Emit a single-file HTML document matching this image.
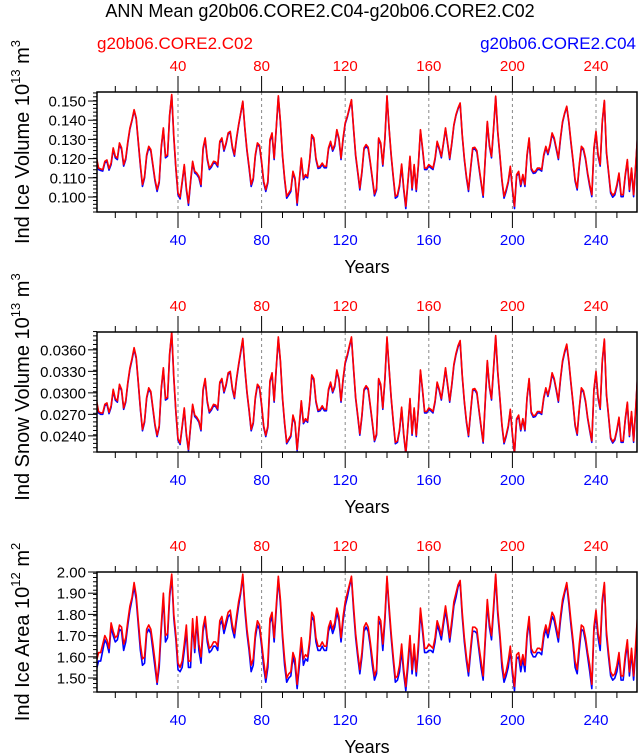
<!DOCTYPE html>
<html><head><meta charset="utf-8">
<style>
html,body{margin:0;padding:0;background:#fff;}
svg{display:block;font-family:"Liberation Sans",sans-serif;}
</style></head>
<body>
<svg id="chart" width="639" height="753" viewBox="0 0 639 753" xmlns="http://www.w3.org/2000/svg">
<text x="320" y="17" font-size="18" text-anchor="middle" fill="#000">ANN Mean g20b06.CORE2.C04-g20b06.CORE2.C02</text>
<text x="97" y="49" font-size="17" fill="#ff0000">g20b06.CORE2.C02</text>
<text x="636" y="49" font-size="17" text-anchor="end" fill="#0000ff">g20b06.CORE2.C04</text>
</svg>
<script>
const years = [];
for (let i = 1; i <= 260; i++) years.push(i);
const xTickLabels = [40, 80, 120, 160, 200, 240];

const volRed = [.1207,.1151,.1146,.1143,.1186,.1193,.1148,.1177,.1256,.1212,
.1203,.1282,.1256,.1169,.1203,.1290,.1360,.1403,.1455,.1412,
.1290,.1169,.1065,.1108,.1221,.1264,.1247,.1169,.1091,.1039,
.1082,.1264,.1360,.1212,.1221,.1429,.1534,.1316,.1151,.1021,
.1000,.1082,.1169,.1047,.0969,.1082,.1186,.1134,.1125,.1108,
.1065,.1256,.1308,.1203,.1151,.1164,.1186,.1183,.1165,.1290,
.1308,.1247,.1282,.1334,.1342,.1264,.1221,.1308,.1377,.1438,
.1499,.1360,.1247,.1160,.1065,.1099,.1221,.1282,.1269,.1186,
.1082,.1039,.1082,.1299,.1334,.1203,.1360,.1527,.1394,.1221,
.1099,.1004,.1021,.1039,.1134,.1099,.0969,.1082,.1203,.1099,
.1117,.1108,.1195,.1325,.1308,.1203,.1157,.1160,.1177,.1160,
.1160,.1256,.1290,.1247,.1273,.1351,.1308,.1203,.1308,.1386,
.1420,.1464,.1507,.1360,.1221,.1134,.1047,.1134,.1256,.1273,
.1259,.1183,.1099,.1016,.1047,.1308,.1282,.1169,.1308,.1527,
.1360,.1221,.1108,.1004,.1012,.1065,.1172,.1047,.0952,.1082,
.1212,.1047,.1169,.1039,.1169,.1351,.1256,.1151,.1151,.1169,
.1160,.1151,.1203,.1290,.1256,.1212,.1282,.1360,.1282,.1203,
.1282,.1377,.1429,.1464,.1490,.1325,.1203,.1108,.1039,.1151,
.1256,.1259,.1242,.1160,.1082,.1009,.1203,.1394,.1273,.1212,
.1360,.1525,.1342,.1221,.1091,.1004,.1039,.1082,.1160,.1047,
.0952,.1117,.1134,.1065,.1117,.1065,.1221,.1308,.1151,.1131,
.1134,.1151,.1151,.1143,.1221,.1264,.1229,.1273,.1334,.1308,
.1256,.1203,.1308,.1394,.1438,.1473,.1394,.1290,.1195,.1091,
.1047,.1169,.1264,.1252,.1203,.1125,.1065,.1012,.1256,.1342,
.1221,.1169,.1394,.1503,.1238,.1134,.1030,.1009,.1021,.1065,
.1125,.1012,.1012,.1117,.1195,.1039,.1151,.1012,.1169,.1342];
const volBlue = [.1199,.1143,.1138,.1135,.1178,.1185,.1140,.1169,.1248,.1204,
.1195,.1276,.1248,.1161,.1195,.1282,.1354,.1398,.1450,.1406,
.1282,.1161,.1055,.1100,.1213,.1256,.1239,.1161,.1083,.1029,
.1074,.1256,.1354,.1204,.1213,.1424,.1529,.1308,.1143,.1011,
.0990,.1074,.1161,.1037,.0957,.1074,.1178,.1126,.1117,.1100,
.1055,.1248,.1300,.1195,.1143,.1156,.1178,.1175,.1157,.1282,
.1300,.1239,.1276,.1328,.1336,.1256,.1213,.1300,.1372,.1434,
.1495,.1354,.1239,.1152,.1055,.1091,.1213,.1276,.1261,.1178,
.1074,.1029,.1074,.1291,.1328,.1195,.1354,.1523,.1388,.1213,
.1091,.0994,.1011,.1029,.1126,.1091,.0957,.1074,.1195,.1091,
.1109,.1100,.1187,.1319,.1300,.1195,.1149,.1152,.1169,.1152,
.1152,.1248,.1282,.1239,.1265,.1345,.1300,.1195,.1300,.1381,
.1415,.1459,.1503,.1354,.1213,.1126,.1037,.1126,.1248,.1265,
.1251,.1175,.1091,.1006,.1037,.1300,.1276,.1161,.1300,.1523,
.1354,.1213,.1100,.0994,.1002,.1055,.1164,.1037,.0940,.1074,
.1204,.1037,.1161,.1029,.1161,.1345,.1248,.1143,.1143,.1161,
.1152,.1143,.1195,.1282,.1248,.1204,.1276,.1354,.1276,.1195,
.1276,.1372,.1424,.1459,.1486,.1319,.1195,.1100,.1029,.1143,
.1248,.1251,.1234,.1152,.1074,.0999,.1195,.1388,.1265,.1204,
.1354,.1521,.1336,.1213,.1083,.0994,.1029,.1074,.1152,.1037,
.0940,.1109,.1126,.1055,.1109,.1055,.1213,.1300,.1143,.1123,
.1126,.1143,.1143,.1135,.1213,.1256,.1221,.1265,.1328,.1300,
.1248,.1195,.1300,.1388,.1434,.1469,.1388,.1282,.1187,.1083,
.1037,.1161,.1256,.1244,.1195,.1117,.1055,.1002,.1248,.1336,
.1213,.1161,.1388,.1499,.1230,.1126,.1020,.0999,.1011,.1055,
.1117,.1002,.1002,.1109,.1187,.1029,.1143,.1002,.1161,.1336];

const snowRed = [.0290,.0274,.0272,.0272,.0284,.0286,.0273,.0282,.0305,.0292,
.0289,.0312,.0305,.0279,.0289,.0315,.0335,.0348,.0363,.0350,
.0315,.0279,.0249,.0261,.0294,.0307,.0302,.0279,.0256,.0241,
.0254,.0307,.0335,.0292,.0294,.0355,.0385,.0322,.0274,.0236,
.0230,.0254,.0279,.0243,.0221,.0254,.0284,.0269,.0266,.0261,
.0249,.0305,.0320,.0289,.0274,.0278,.0284,.0283,.0278,.0315,
.0320,.0302,.0312,.0328,.0330,.0307,.0294,.0320,.0340,.0358,
.0376,.0335,.0302,.0277,.0249,.0259,.0294,.0312,.0308,.0284,
.0254,.0241,.0254,.0317,.0328,.0289,.0335,.0378,.0345,.0294,
.0259,.0231,.0236,.0241,.0269,.0259,.0221,.0254,.0289,.0259,
.0264,.0261,.0287,.0325,.0320,.0289,.0276,.0277,.0282,.0277,
.0277,.0305,.0315,.0302,.0310,.0332,.0320,.0289,.0320,.0343,
.0353,.0366,.0378,.0335,.0294,.0269,.0243,.0269,.0305,.0310,
.0306,.0283,.0259,.0234,.0243,.0320,.0312,.0279,.0320,.0378,
.0335,.0294,.0261,.0231,.0233,.0249,.0280,.0243,.0216,.0254,
.0292,.0243,.0279,.0241,.0279,.0332,.0305,.0274,.0274,.0279,
.0277,.0274,.0289,.0315,.0305,.0292,.0312,.0335,.0312,.0289,
.0312,.0340,.0355,.0366,.0373,.0325,.0289,.0261,.0241,.0274,
.0305,.0306,.0301,.0277,.0254,.0232,.0289,.0345,.0310,.0292,
.0335,.0380,.0330,.0294,.0256,.0231,.0241,.0254,.0277,.0243,
.0216,.0264,.0269,.0249,.0264,.0249,.0294,.0320,.0274,.0268,
.0269,.0274,.0274,.0272,.0294,.0307,.0297,.0310,.0328,.0320,
.0305,.0289,.0320,.0345,.0358,.0368,.0345,.0315,.0287,.0256,
.0243,.0279,.0307,.0303,.0289,.0266,.0249,.0233,.0305,.0330,
.0294,.0279,.0345,.0375,.0299,.0269,.0238,.0232,.0236,.0249,
.0266,.0233,.0233,.0264,.0287,.0241,.0274,.0233,.0279,.0330];
const snowBlue = [.0288,.0272,.0270,.0270,.0282,.0284,.0271,.0280,.0303,.0290,
.0287,.0310,.0303,.0277,.0287,.0313,.0333,.0346,.0361,.0348,
.0313,.0277,.0247,.0259,.0292,.0305,.0300,.0277,.0254,.0239,
.0252,.0305,.0333,.0290,.0292,.0353,.0383,.0320,.0272,.0234,
.0228,.0252,.0277,.0241,.0219,.0252,.0282,.0267,.0264,.0259,
.0247,.0303,.0318,.0287,.0272,.0276,.0282,.0281,.0276,.0313,
.0318,.0300,.0310,.0326,.0328,.0305,.0292,.0318,.0338,.0356,
.0374,.0333,.0300,.0275,.0247,.0257,.0292,.0310,.0306,.0282,
.0252,.0239,.0252,.0315,.0326,.0287,.0333,.0376,.0343,.0292,
.0257,.0229,.0234,.0239,.0267,.0257,.0219,.0252,.0287,.0257,
.0262,.0259,.0285,.0323,.0318,.0287,.0274,.0275,.0280,.0275,
.0275,.0303,.0313,.0300,.0308,.0330,.0318,.0287,.0318,.0341,
.0351,.0364,.0376,.0333,.0292,.0267,.0241,.0267,.0303,.0308,
.0304,.0281,.0257,.0232,.0241,.0318,.0310,.0277,.0318,.0376,
.0333,.0292,.0259,.0229,.0231,.0247,.0278,.0241,.0214,.0252,
.0290,.0241,.0277,.0239,.0277,.0330,.0303,.0272,.0272,.0277,
.0275,.0272,.0287,.0313,.0303,.0290,.0310,.0333,.0310,.0287,
.0310,.0338,.0353,.0364,.0371,.0323,.0287,.0259,.0239,.0272,
.0303,.0304,.0299,.0275,.0252,.0230,.0287,.0343,.0308,.0290,
.0333,.0378,.0328,.0292,.0254,.0229,.0239,.0252,.0275,.0241,
.0214,.0262,.0267,.0247,.0262,.0247,.0292,.0318,.0272,.0266,
.0267,.0272,.0272,.0270,.0292,.0305,.0295,.0308,.0326,.0318,
.0303,.0287,.0318,.0343,.0356,.0366,.0343,.0313,.0285,.0254,
.0241,.0277,.0305,.0301,.0287,.0264,.0247,.0231,.0303,.0328,
.0292,.0277,.0343,.0373,.0297,.0267,.0236,.0230,.0234,.0247,
.0264,.0231,.0231,.0262,.0285,.0239,.0272,.0231,.0277,.0328];

const areaRed = [1.58,1.62,1.62,1.66,1.70,1.68,1.64,1.76,1.72,1.69,
1.70,1.75,1.74,1.66,1.69,1.77,1.84,1.88,1.95,1.89,
1.77,1.66,1.59,1.60,1.73,1.75,1.73,1.66,1.58,1.48,
1.58,1.75,1.90,1.70,1.71,1.90,1.99,1.80,1.70,1.57,
1.55,1.58,1.66,1.75,1.58,1.58,1.78,1.64,1.79,1.66,
1.60,1.74,1.79,1.69,1.64,1.65,1.67,1.67,1.65,1.77,
1.79,1.73,1.77,1.81,1.82,1.75,1.71,1.79,1.86,1.91,
1.99,1.84,1.73,1.65,1.56,1.59,1.71,1.77,1.75,1.67,
1.58,1.50,1.58,1.78,1.81,1.69,1.84,1.98,1.87,1.71,
1.59,1.50,1.52,1.53,1.62,1.59,1.47,1.58,1.69,1.59,
1.61,1.60,1.68,1.81,1.79,1.69,1.65,1.65,1.67,1.65,
1.65,1.74,1.77,1.73,1.76,1.83,1.79,1.69,1.79,1.86,
1.90,1.94,1.98,1.84,1.71,1.62,1.54,1.62,1.74,1.76,
1.74,1.67,1.59,1.51,1.54,1.79,1.77,1.66,1.79,1.98,
1.84,1.71,1.60,1.50,1.51,1.56,1.66,1.54,1.46,1.58,
1.70,1.54,1.66,1.53,1.66,1.83,1.74,1.64,1.64,1.66,
1.65,1.64,1.69,1.77,1.74,1.70,1.77,1.84,1.77,1.69,
1.77,1.86,1.90,1.94,1.96,1.81,1.69,1.60,1.53,1.64,
1.74,1.74,1.73,1.65,1.58,1.51,1.69,1.87,1.76,1.70,
1.84,1.99,1.82,1.71,1.58,1.50,1.53,1.58,1.65,1.54,
1.46,1.61,1.62,1.56,1.61,1.56,1.71,1.79,1.64,1.62,
1.62,1.64,1.64,1.63,1.71,1.75,1.71,1.76,1.81,1.79,
1.74,1.69,1.79,1.87,1.91,1.95,1.87,1.77,1.68,1.58,
1.54,1.66,1.75,1.74,1.69,1.62,1.56,1.47,1.74,1.82,
1.71,1.66,1.87,1.95,1.72,1.62,1.53,1.51,1.52,1.56,
1.62,1.51,1.51,1.61,1.68,1.53,1.64,1.51,1.66,1.82];
const areaBlue = [1.54,1.58,1.58,1.63,1.68,1.66,1.62,1.74,1.70,1.67,
1.68,1.73,1.72,1.63,1.67,1.75,1.82,1.87,1.93,1.87,
1.75,1.63,1.56,1.57,1.71,1.73,1.71,1.63,1.55,1.47,
1.55,1.73,1.88,1.67,1.69,1.88,1.98,1.78,1.68,1.54,
1.53,1.55,1.63,1.72,1.55,1.55,1.76,1.62,1.77,1.63,
1.57,1.72,1.77,1.67,1.62,1.63,1.65,1.65,1.63,1.75,
1.77,1.71,1.75,1.79,1.80,1.73,1.69,1.77,1.84,1.90,
1.98,1.82,1.71,1.63,1.53,1.56,1.69,1.75,1.73,1.65,
1.55,1.48,1.55,1.76,1.79,1.67,1.82,1.97,1.85,1.69,
1.56,1.48,1.50,1.51,1.60,1.56,1.45,1.55,1.67,1.56,
1.59,1.58,1.66,1.79,1.77,1.67,1.63,1.63,1.65,1.63,
1.63,1.72,1.75,1.71,1.74,1.81,1.77,1.67,1.77,1.84,
1.88,1.93,1.97,1.82,1.69,1.60,1.52,1.60,1.72,1.74,
1.72,1.65,1.56,1.49,1.52,1.77,1.75,1.63,1.77,1.97,
1.82,1.69,1.58,1.48,1.49,1.53,1.63,1.52,1.44,1.55,
1.68,1.52,1.63,1.51,1.63,1.81,1.72,1.62,1.62,1.63,
1.63,1.62,1.67,1.75,1.72,1.68,1.75,1.82,1.75,1.67,
1.75,1.84,1.88,1.93,1.95,1.79,1.67,1.58,1.51,1.62,
1.72,1.72,1.71,1.63,1.55,1.49,1.67,1.85,1.74,1.68,
1.82,1.98,1.80,1.69,1.55,1.48,1.51,1.55,1.63,1.52,
1.44,1.59,1.60,1.53,1.59,1.53,1.69,1.77,1.62,1.60,
1.60,1.62,1.62,1.61,1.69,1.73,1.69,1.74,1.79,1.77,
1.72,1.67,1.77,1.85,1.90,1.94,1.85,1.75,1.66,1.55,
1.52,1.63,1.73,1.72,1.67,1.60,1.53,1.45,1.72,1.80,
1.69,1.63,1.85,1.94,1.70,1.60,1.51,1.49,1.50,1.53,
1.60,1.49,1.49,1.59,1.66,1.51,1.62,1.49,1.63,1.80];

const volTicks = [0.150, 0.140, 0.130, 0.120, 0.110, 0.100];
const snowTicks = [0.0360, 0.0330, 0.0300, 0.0270, 0.0240];
const areaTicks = [2.00, 1.90, 1.80, 1.70, 1.60, 1.50];

const svg = document.getElementById('chart');
const NS = 'http://www.w3.org/2000/svg';
function mk(tag, attrs, parent) {
  const e = document.createElementNS(NS, tag);
  for (const k in attrs) e.setAttribute(k, attrs[k]);
  (parent || svg).appendChild(e);
  return e;
}
const X0 = 97, X1 = 637;
function xScale(yr) { return 178 + (yr - 40) * 2.09; }

function panel(cfg) {
  const g = mk('g', {});
  
  
  const top = cfg.top, bot = cfg.top + 120;
  const yScale = v => top + (cfg.ymax - v) / (cfg.ymax - cfg.ymin) * 120;
  const cid = 'clip-' + cfg.name;
  const cp = mk('clipPath', { id: cid }, g);
  mk('rect', { x: X0, y: top, width: X1 - X0, height: 120 }, cp);
  xTickLabels.forEach(t => {
    const l = mk('line', { x1: xScale(t), x2: xScale(t), y1: top, y2: bot, stroke: '#888', 'stroke-width': 1, 'stroke-dasharray': '3,3' }, g);
    
    
  });
  for (let t = 10; t <= 260; t += 10) {
    const x = xScale(t);
    if (x > X1 + 0.5) break;
    const len = (t % 40 === 0) ? 16 : 6;
    mk('line', { x1: x, x2: x, y1: top, y2: top - len, stroke: '#000', 'stroke-width': 1 }, g);
    mk('line', { x1: x, x2: x, y1: bot, y2: bot + len, stroke: '#000', 'stroke-width': 1 }, g);
  }
  xTickLabels.forEach(t => {
    const a = mk('text', { x: xScale(t), y: top - 21, 'font-size': 15, 'text-anchor': 'middle', fill: '#ff0000' }, g);
    a.textContent = t;
    
    
    const b = mk('text', { x: xScale(t), y: bot + 33, 'font-size': 15, 'text-anchor': 'middle', fill: '#0000ff' }, g);
    b.textContent = t;
    
    
  });
  const n = Math.round((cfg.ymax - cfg.ymin) / cfg.minor);
  for (let i = 0; i <= n; i++) {
    const v = cfg.ymin + i * cfg.minor;
    const y = yScale(v);
    if (y < top - 0.5 || y > bot + 0.5) continue;
    mk('line', { x1: X0, x2: X0 - 4, y1: y, y2: y, stroke: '#000', 'stroke-width': 1 }, g);
  }
  cfg.ticks.forEach(v => {
    const y = yScale(v);
    mk('line', { x1: X0, x2: X0 - 9, y1: y, y2: y, stroke: '#000', 'stroke-width': 1 }, g);
    const t = mk('text', { x: 86, y: y + 5.5, 'font-size': 15, 'text-anchor': 'end', fill: '#000' }, g);
    t.textContent = v.toFixed(cfg.dec);
    
    
  });
  [[cfg.blue, '#0000ff', 'blue'], [cfg.red, '#ff0000', 'red']].forEach(([arr, col, nm]) => {
    const pts = arr.map((v, i) => xScale(years[i]).toFixed(2) + ',' + yScale(v).toFixed(2)).join(' ');
    const pl = mk('polyline', { points: pts, fill: 'none', stroke: col, 'stroke-width': 1.6, 'stroke-linejoin': 'round', 'clip-path': 'url(#' + cid + ')' }, g);
    
    
  });
  mk('rect', { x: X0, y: top, width: X1 - X0, height: 120, fill: 'none', stroke: '#000', 'stroke-width': 1.5 }, g);
  const xt = mk('text', { x: 367, y: bot + 61, 'font-size': 18, 'text-anchor': 'middle', fill: '#000' }, g);
  xt.textContent = 'Years';
  
  
  const yt = mk('text', { x: 0, y: 0, 'font-size': 20, 'text-anchor': 'middle', fill: '#000', transform: 'translate(29,' + (top + cfg.ymid) + ') rotate(-90)' }, g);
  
  
  yt.appendChild(document.createTextNode(cfg.label + ' 10'));
  const s1 = mk('tspan', { dy: -9, 'font-size': 13 }, yt); s1.textContent = cfg.exp;
  const s2 = mk('tspan', { dy: 9 }, yt); s2.textContent = ' m';
  const s3 = mk('tspan', { dy: -9, 'font-size': 13 }, yt); s3.textContent = cfg.unitExp;
}

panel({ name: 'ice-volume-panel', top: 92, ymid: 50, ymin: 0.0922, ymax: 0.1547, minor: 0.002, ticks: volTicks, dec: 3, red: volRed, blue: volBlue, label: 'Ind Ice Volume', exp: '13', unitExp: '3' });
panel({ name: 'snow-volume-panel', top: 332, ymid: 55, ymin: 0.02175, ymax: 0.03849, minor: 0.0006, ticks: snowTicks, dec: 4, red: snowRed, blue: snowBlue, label: 'Ind Snow Volume', exp: '13', unitExp: '3' });
panel({ name: 'ice-area-panel', top: 572, ymid: 60, ymin: 1.434, ymax: 2.0, minor: 0.02, ticks: areaTicks, dec: 2, red: areaRed, blue: areaBlue, label: 'Ind Ice Area', exp: '12', unitExp: '2' });
</script>
</body></html>
